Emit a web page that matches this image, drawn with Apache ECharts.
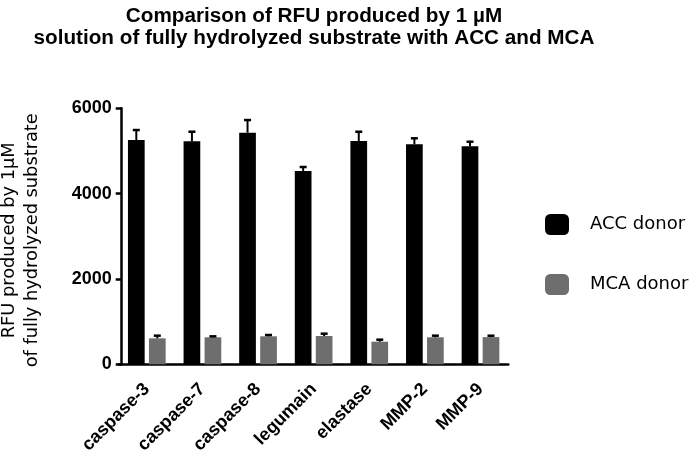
<!DOCTYPE html>
<html>
<head>
<meta charset="utf-8">
<script src="https://cdn.jsdelivr.net/npm/echarts@6/dist/echarts.min.js"></script>
<style>
html,body{margin:0;padding:0;background:#fff;}
#chart{width:700px;height:459px;}
</style>
</head>
<body>
<div id="chart"></div>
<script>
const categories = ['caspase-3','caspase-7','caspase-8','legumain','elastase','MMP-2','MMP-9'];
const accValues = [5257, 5226, 5428, 4530, 5233, 5156, 5109];
const accErrors = [234, 225, 297, 94, 218, 141, 108];
const mcaValues = [609, 633, 656, 663, 530, 633, 637];
const mcaErrors = [62, 22, 31, 55, 47, 38, 33];
const yTicks = {min: 0, max: 6000, interval: 2000};

const BAR_W = 16.7;
const GAP_PX = 4.3;

function errSeries(values, errors, sign, color) {
  return {
    type: 'custom',
    z: 5,
    silent: true,
    data: values.map((v, i) => [i, v, errors[i]]),
    renderItem: function (params, api) {
      const x = api.coord([api.value(0), 0])[0] + sign * (BAR_W + GAP_PX) / 2;
      const yBar = api.coord([api.value(0), api.value(1)])[1];
      const yTop = api.coord([api.value(0), api.value(1) + api.value(2)])[1];
      return {
        type: 'group',
        children: [
          {type: 'line', shape: {x1: x, y1: yBar, x2: x, y2: yTop}, style: {stroke: color, lineWidth: 2}},
          {type: 'line', shape: {x1: x - 3.5, y1: yTop, x2: x + 3.5, y2: yTop}, style: {stroke: color, lineWidth: 2.5}}
        ]
      };
    }
  };
}

const chart = echarts.init(document.getElementById('chart'));
chart.setOption({
  animation: false,
  backgroundColor: '#ffffff',
  title: {
    text: 'Comparison of RFU produced by 1 µM\nsolution of fully hydrolyzed substrate with ACC and MCA',
    left: 309,
    top: 0,
    textAlign: 'center',
    padding: [5, 5],
    textStyle: {fontFamily: 'Liberation Sans', fontWeight: 'bold', fontSize: 20.7, lineHeight: 22, color: '#000'}
  },
  legend: {
    orient: 'vertical',
    left: 540,
    top: 209,
    itemWidth: 24,
    itemHeight: 21,
    itemGap: 39,
    icon: 'roundRect',
    data: ['ACC donor', 'MCA donor'],
    textStyle: {fontFamily: 'DejaVu Sans', fontSize: 18, color: '#000', padding: [0, 0, 0, 16]}
  },
  grid: {left: 119, right: 191.7, top: 108.3, bottom: 94.7, containLabel: false, outerBoundsMode: 'none'},
  xAxis: {
    type: 'category',
    data: categories,
    axisLine: {lineStyle: {color: '#000', width: 2.5}},
    axisTick: {alignWithLabel: true, length: 7, lineStyle: {color: '#000', width: 2.5}},
    axisLabel: {rotate: 45, margin: 22, interval: 0, fontFamily: 'Liberation Sans', fontWeight: 'bold', fontSize: 18, color: '#000'}
  },
  yAxis: {
    type: 'value',
    min: yTicks.min,
    max: yTicks.max,
    interval: yTicks.interval,
    offset: -2.7,
    name: 'RFU produced by 1µM\nof fully hydrolyzed substrate',
    nameLocation: 'middle',
    nameRotate: 90,
    nameGap: 78,
    nameTextStyle: {fontFamily: 'DejaVu Sans', fontSize: 17.8, lineHeight: 23, color: '#000', padding: [0, 8, 0, 0]},
    splitLine: {show: false},
    axisLine: {show: true, lineStyle: {color: '#000', width: 2.5}},
    axisTick: {show: true, length: 6, lineStyle: {color: '#000', width: 2.5}},
    axisLabel: {margin: 10, formatter: function (v) { return String(v); }, fontFamily: 'Liberation Sans', fontWeight: 'bold', fontSize: 18, color: '#000'}
  },
  series: [
    {name: 'ACC donor', type: 'bar', data: accValues, barWidth: BAR_W, barGap: (GAP_PX / BAR_W * 100) + '%',
     itemStyle: {color: '#000000'}},
    {name: 'MCA donor', type: 'bar', data: mcaValues, barWidth: BAR_W,
     itemStyle: {color: '#6e6e6e'}},
    errSeries(accValues, accErrors, -1, '#000000'),
    errSeries(mcaValues, mcaErrors, 1, '#000000')
  ]
});
</script>
</body>
</html>
